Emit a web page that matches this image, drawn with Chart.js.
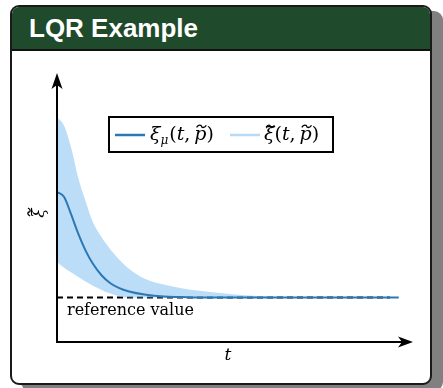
<!DOCTYPE html>
<html>
<head>
<meta charset="utf-8">
<script src="https://cdn.jsdelivr.net/npm/chart.js@4.4.1/dist/chart.umd.min.js"></script>
<style>
  html, body { margin: 0; padding: 0; background: #ffffff; }
  body { width: 443px; height: 388px; position: relative; overflow: hidden; }
  .card {
    position: absolute; left: 10px; top: 5px; width: 422px; height: 380px;
    box-sizing: border-box; border: 2px solid #1a1a1a; border-radius: 9px;
    background: #ffffff; box-shadow: 11px 6px 0 #808080; overflow: hidden;
  }
  .card .head {
    height: 42px; background: #1f4a2b; border-bottom: 2px solid #111;
    color: #ffffff; font-family: "Liberation Sans", Arial, sans-serif;
    font-weight: bold; font-size: 26px; line-height: 42px; padding-left: 17px;
  }
  #chart { position: absolute; left: 0; top: 0; }
</style>
</head>
<body>
<div class="card"><div class="head">LQR Example</div></div>
<canvas id="chart" width="443" height="388"></canvas>
<script>
// time grid and sampled trajectories
const tValues     = [0, 0.2, 0.4, 0.6, 0.8, 1.0, 1.25, 1.5, 1.75, 2.0, 2.5, 3.0, 3.5, 4, 5, 6, 7, 8, 9, 9.6];
const meanValues  = [3.37, 3.26, 2.86, 2.43, 2.06, 1.77, 1.50, 1.32, 1.21, 1.14, 1.06, 1.02, 1.01, 1.0, 1.0, 1.0, 1.0, 1.0, 1.0, 1.0];
const upperValues = [5.05, 4.86, 4.36, 3.68, 3.17, 2.71, 2.36, 2.08, 1.85, 1.66, 1.41, 1.29, 1.21, 1.15, 1.07, 1.02, 1.0, 1.0, 1.0, 1.0];
const lowerValues = [1.80, 1.67, 1.56, 1.46, 1.36, 1.27, 1.17, 1.09, 1.03, 1.0, 1.0, 1.0, 1.0, 1.0, 1.0, 1.0, 1.0, 1.0, 1.0, 1.0];
const referenceValue = 1.0;
const referenceSpan  = [0, 9.35];

const meanColor = '#2b78b6';
const bandColor = 'rgba(140,196,241,0.58)';
const bandLegendColor = '#b7dbf6';
const SERIF = '"DejaVu Serif", "Liberation Serif", serif';

const pts = (ys) => tValues.map((t, i) => ({ x: t, y: ys[i] }));

// small wavy accent centred at (cx, cy)
function tilde(ctx, cx, cy, w) {
  ctx.save();
  ctx.lineWidth = 1.3; ctx.strokeStyle = '#000';
  ctx.beginPath();
  ctx.moveTo(cx - w / 2, cy + 1);
  ctx.bezierCurveTo(cx - w / 4, cy - 2.5, cx, cy - 1, cx, cy);
  ctx.bezierCurveTo(cx, cy + 1, cx + w / 4, cy + 2.5, cx + w / 2, cy - 1);
  ctx.stroke();
  ctx.restore();
}

// draws a run of math pieces left to right, returns end x
function mathRun(ctx, pieces, x, base, size) {
  for (const p of pieces) {
    const s = p.sub ? Math.round(size * 0.65) : size;
    ctx.font = (p.upright ? '' : 'italic ') + s + 'px ' + SERIF;
    const w = ctx.measureText(p.t).width;
    ctx.fillText(p.t, x, base + (p.sub ? 4 : 0));
    if (p.tilde) tilde(ctx, x + w / 2 + 1, base - size * 0.72, w * 0.8);
    x += w + (p.gap || 0);
  }
  return x;
}

// axes with arrow heads, axis titles, legend box and annotation
const decorations = {
  id: 'decorations',
  afterDatasetsDraw(chart) {
    const { ctx, chartArea: a, scales } = chart;
    ctx.save();
    ctx.strokeStyle = '#000'; ctx.fillStyle = '#000'; ctx.lineWidth = 2;
    // y axis
    ctx.beginPath(); ctx.moveTo(a.left, a.bottom + 1); ctx.lineTo(a.left, a.top + 8); ctx.stroke();
    ctx.beginPath(); ctx.moveTo(a.left, a.top - 2); ctx.lineTo(a.left - 5.5, a.top + 14);
    ctx.lineTo(a.left, a.top + 10); ctx.lineTo(a.left + 5.5, a.top + 14); ctx.closePath(); ctx.fill();
    // x axis
    ctx.beginPath(); ctx.moveTo(a.left - 1, a.bottom); ctx.lineTo(a.right - 8, a.bottom); ctx.stroke();
    ctx.beginPath(); ctx.moveTo(a.right, a.bottom); ctx.lineTo(a.right - 15, a.bottom - 5.5);
    ctx.lineTo(a.right - 11, a.bottom); ctx.lineTo(a.right - 15, a.bottom + 5.5); ctx.closePath(); ctx.fill();

    // axis titles
    ctx.font = 'italic 17px ' + SERIF;
    ctx.textAlign = 'center'; ctx.textBaseline = 'middle';
    ctx.fillText('t', a.left + 171, a.bottom + 14);
    ctx.save();
    ctx.translate(a.left - 17, 213);
    ctx.rotate(-Math.PI / 2);
    ctx.fillText('\u03BE', 0, 0);
    tilde(ctx, 1, -11, 8);
    ctx.restore();

    // reference annotation
    ctx.font = '16px ' + SERIF;
    ctx.textAlign = 'left';
    const yRef = scales.y.getPixelForValue(referenceValue);
    ctx.fillText('reference value', a.left + 10, yRef + 13);

    // legend
    const bx = 109, by = 117, bw = 224, bh = 35;
    ctx.fillStyle = '#fff'; ctx.fillRect(bx, by, bw, bh);
    ctx.lineWidth = 2; ctx.strokeStyle = '#000'; ctx.strokeRect(bx, by, bw, bh);
    const cy = by + bh / 2 + 0.5;
    ctx.lineWidth = 2.5;
    ctx.strokeStyle = meanColor;
    ctx.beginPath(); ctx.moveTo(bx + 6, cy); ctx.lineTo(bx + 36, cy); ctx.stroke();
    ctx.strokeStyle = bandLegendColor;
    ctx.beginPath(); ctx.moveTo(bx + 121, cy); ctx.lineTo(bx + 151, cy); ctx.stroke();

    ctx.fillStyle = '#000';
    ctx.textBaseline = 'alphabetic';
    const base = cy + 5;
    const size = 19;
    const args = [
      { t: '(', upright: true }, { t: 't' }, { t: ',', upright: true, gap: 4 },
      { t: 'p', tilde: true }, { t: ')', upright: true }
    ];
    mathRun(ctx, [{ t: '\u03BE' }, { t: '\u03BC', sub: true, gap: 1 }, ...args], bx + 41, base, size);
    mathRun(ctx, [{ t: '\u03BE', tilde: true }, ...args], bx + 155, base, size);
    ctx.restore();
  }
};

new Chart(document.getElementById('chart'), {
  type: 'line',
  data: {
    datasets: [
      {
        label: 'mean',
        data: pts(meanValues),
        borderColor: meanColor, borderWidth: 2, pointRadius: 0,
        cubicInterpolationMode: 'monotone', fill: false, order: 0
      },
      {
        label: 'upper',
        data: pts(upperValues),
        borderWidth: 0, borderColor: 'rgba(0,0,0,0)', pointRadius: 0,
        backgroundColor: bandColor, cubicInterpolationMode: 'monotone',
        fill: { target: 2 }, order: 1
      },
      {
        label: 'lower',
        data: pts(lowerValues),
        borderWidth: 0, borderColor: 'rgba(0,0,0,0)', pointRadius: 0,
        cubicInterpolationMode: 'monotone', fill: false, order: 2
      },
      {
        label: 'reference',
        data: referenceSpan.map(t => ({ x: t, y: referenceValue })),
        borderColor: '#000', borderWidth: 2, borderDash: [6, 4],
        pointRadius: 0, fill: false, order: 3
      }
    ]
  },
  options: {
    responsive: false,
    animation: false,
    devicePixelRatio: 1,
    layout: { padding: { left: 57, right: 30, top: 75, bottom: 46 } },
    scales: {
      x: { type: 'linear', min: 0, max: 10, display: false },
      y: { type: 'linear', min: 0, max: 6, display: false }
    },
    plugins: { legend: { display: false }, tooltip: { enabled: false } }
  },
  plugins: [decorations]
});
</script>
</body>
</html>
